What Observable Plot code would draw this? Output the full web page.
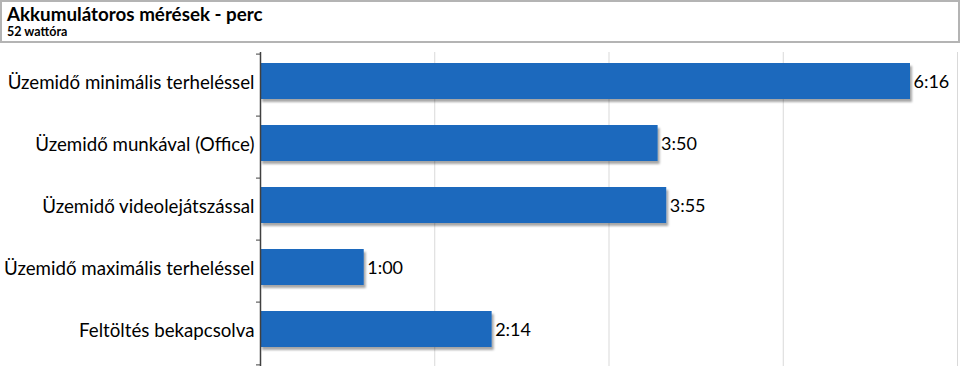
<!DOCTYPE html>
<html>
<head>
<meta charset="utf-8">
<script src="https://cdn.jsdelivr.net/npm/d3@7"></script>
<script src="https://cdn.jsdelivr.net/npm/@observablehq/plot@0.6"></script>
<style>
  html, body { margin: 0; padding: 0; background: #fff; }
  body { width: 960px; height: 380px; overflow: hidden; font-family: Lato, "Open Sans", sans-serif; }
  #title {
    box-sizing: border-box; width: 960px; height: 43px;
    border: 2px solid #b4b4b4; padding: 1px 0 0 5px;
  }
  #title .t { font-weight: bold; font-size: 18.8px; line-height: 22px; color: #000; }
  #title .s { font-weight: bold; font-size: 12.5px; line-height: 14px; color: #000; }
</style>
</head>
<body>
<div id="title"><div class="t">Akkumulátoros mérések - perc</div><div class="s">52 wattóra</div></div>
<div id="chart"></div>
<script>
const categories = [
  "Üzemidő minimális terheléssel",
  "Üzemidő munkával (Office)",
  "Üzemidő videolejátszással",
  "Üzemidő maximális terheléssel",
  "Feltöltés bekapcsolva"
];
const minutes = [376, 230, 235, 60, 134];
const valueLabels = ["6:16", "3:50", "3:55", "1:00", "2:14"];
const gridTicks = [100.8, 201.6, 302.4, 403.2];

const data = categories.map((c, i) => ({cat: c, min: minutes[i], label: valueLabels[i]}));

const height = 337, marginTop = 9, marginBottom = 14;
const step = (height - marginTop - marginBottom) / categories.length;

const chart = Plot.plot({
  width: 960,
  height,
  marginTop,
  marginBottom,
  marginLeft: 260,
  marginRight: 3,
  style: {fontFamily: "Lato, 'Open Sans', sans-serif", background: "#fff", color: "#000"},
  x: {domain: [0, 403.2], axis: null},
  y: {domain: categories, paddingInner: 0.42, paddingOuter: 0.21, label: null},
  marks: [
    Plot.ruleX(gridTicks, {stroke: "#d9d9d9", strokeWidth: 1}),
    Plot.barX(data, {y: "cat", x: "min", fill: "#1a69bd", dy: -4}),
    Plot.text(data, {y: "cat", x: "min", text: "label", textAnchor: "start", dx: 3, dy: -3, fontSize: 18, fill: "#000"}),
    Plot.ruleX([0], {stroke: "#404040", strokeWidth: 1.5}),
    Plot.axisY({tickSize: 0, tickPadding: 6, fontSize: 18.7, fill: "#000", label: null, dy: -2}),
    Plot.axisY({ticks: categories, tickSize: 4, tickFormat: () => "", dy: -step / 2, stroke: "#404040", label: null}),
    Plot.axisY({ticks: [categories[categories.length - 1]], tickSize: 4, tickFormat: () => "", dy: step / 2, stroke: "#404040", label: null})
  ]
});

document.getElementById("chart").appendChild(chart);

// drop shadow on bars
const svg = d3.select(chart);
const defs = svg.insert("defs", ":first-child");
const f = defs.append("filter").attr("id", "barShadow").attr("x", "-5%").attr("y", "-20%").attr("width", "115%").attr("height", "160%");
f.append("feDropShadow").attr("dx", 2).attr("dy", 3).attr("stdDeviation", 1.3)
  .attr("flood-color", "#000").attr("flood-opacity", 0.35);
svg.selectAll("g[aria-label='bar'] rect").attr("filter", "url(#barShadow)");
</script>
</body>
</html>
